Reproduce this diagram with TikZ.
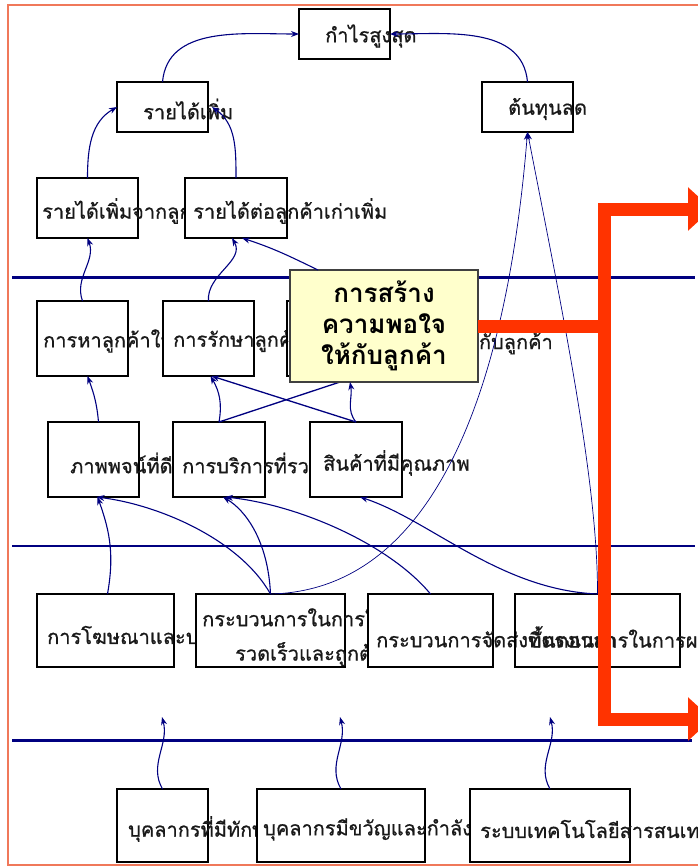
\documentclass[tikz,border=0pt]{standalone}
\usepackage{fontspec}
\newfontfamily\thai[Script=Thai, FakeBold=0.8]{Loma}
\newfontfamily\thaihead[Script=Thai]{Loma}
\usetikzlibrary{arrows.meta,calc}
\definecolor{navy}{RGB}{0,0,128}
\definecolor{redbar}{RGB}{255,51,0}
\definecolor{framecol}{RGB}{240,120,90}
\definecolor{notefill}{RGB}{255,255,204}
\begin{document}
\begin{tikzpicture}[x=1pt,y=-1pt,
  box/.style={draw=black, line width=2.5pt, fill=white, anchor=north west, inner sep=0pt, outer sep=0pt},
  openbox/.style={box, fill=none},
  lbl/.style={font=\thai\fontsize{20}{24}\selectfont, text=black!90, inner sep=0pt, anchor=west},
  conn/.style={draw=navy, line width=1.1pt, -{Stealth[length=8pt,width=6pt]}},
  thin/.style={conn, line width=0.7pt},
  plain/.style={draw=navy, line width=1.3pt},
  divider/.style={draw=navy, line width=#1},
  note/.style={draw=black!75, line width=1.2pt, fill=notefill, anchor=north west, inner sep=0pt, outer sep=0pt},
  bracket/.style={draw=redbar, line width=13pt, line join=miter},
]
\useasboundingbox (0,0) rectangle (697,868);
\draw[framecol, line width=1.5pt] (8,5) rectangle (705,865);

% dividers between the levels
\draw[divider=3pt] (12,277) -- (695,277);
\draw[divider=2pt] (12,546) -- (695,546);
\draw[divider=3pt] (12,740) -- (692,740);

% level 1: financial
\node[box, minimum width=91pt, minimum height=50pt] (profit) at (299,9) {};
\node[lbl] at (325,36) {กำไรสูงสุด};
\node[box, minimum width=91pt, minimum height=50pt] (rev) at (117,82) {};
\node[lbl] at (143,109) {รายได้เพิ่ม};
\node[box, minimum width=91pt, minimum height=50pt] (cost) at (482,82) {};
\node[lbl] at (508,109) {ต้นทุนลด};
\node[box, minimum width=101pt, minimum height=60pt] (revnew) at (37,178) {};
\node[lbl] at (42,211) {รายได้เพิ่มจากลูกค้าใหม่};
\node[box, minimum width=102pt, minimum height=60pt] (revold) at (185,178) {};
\node[lbl] at (193,211) {รายได้ต่อลูกค้าเก่าเพิ่ม};

% level 2: customer
\node[box, minimum width=91pt, minimum height=75pt] (acq) at (37,301) {};
\node[lbl] at (43,341) {การหาลูกค้าใหม่};
\node[box, minimum width=91pt, minimum height=75pt] (ret) at (163,301) {};
\node[lbl] at (173,341) {การรักษาลูกค้า};
\node[box, minimum width=91pt, minimum height=75pt] (rel) at (287,301) {};
\begin{scope}
  \clip (287,290) rectangle (697,390);
  \node[lbl, anchor=east] at (553,343) {การสร้างความสัมพันธ์กับลูกค้า};
\end{scope}
\node[box, minimum width=91pt, minimum height=75pt] (img) at (48,422) {};
\node[lbl] at (70,463) {ภาพพจน์ที่ดี};
\node[box, minimum width=92pt, minimum height=75pt] (svc) at (173,422) {};
\node[lbl] at (182,463) {การบริการที่รวดเร็ว};
\node[box, minimum width=92pt, minimum height=75pt] (qual) at (310,422) {};
\node[lbl] at (323,463) {สินค้าที่มีคุณภาพ};

% level 3: internal processes
\node[box, minimum width=137pt, minimum height=73pt] (adv) at (37,594) {};
\node[lbl] at (47,635) {การโฆษณาและประชาสัมพันธ์};
\node[box, minimum width=149pt, minimum height=73pt] (proc) at (196,594) {};
\node[lbl] at (202,616) {กระบวนการในการให้บริการที่};
\node[lbl] at (235,654) {รวดเร็วและถูกต้อง};
\node[box, minimum width=125pt, minimum height=73pt] (deliv) at (368,594) {};
\node[lbl] at (376,637) {กระบวนการจัดส่งที่ตรงเวลา};
\node[openbox, minimum width=165pt, minimum height=73pt] (prod) at (515,594) {};
\node[lbl] at (528,637) {ขั้นตอนการในการผลิต};

% level 4: learning and growth
\node[box, minimum width=91pt, minimum height=73pt] (skill) at (117,789) {};
\node[lbl] at (128,829) {บุคลากรที่มีทักษะ};
\node[box, minimum width=168pt, minimum height=73pt] (moral) at (257,789) {};
\node[lbl] at (263,829) {บุคลากรมีขวัญและกำลังใจ};
\node[box, minimum width=160pt, minimum height=73pt] (tech) at (470,789) {};
\node[lbl] at (480,829) {ระบบเทคโนโลยีสารสนเทศ};

\coordinate (up1) at (162,717);
\coordinate (up2) at (340,717);
\coordinate (up3) at (550,717);

% cause and effect links
\draw[conn] (rev.north) to[out=85,in=180] (profit.west);
\draw[conn] (cost.north) to[out=95,in=0] (profit.east);
\draw[conn] (revnew.north) to[out=90,in=210] (rev.west);
\draw[conn] (revold.north) to[out=90,in=-35] ([xshift=4pt]rev.east);
\draw[conn] (acq.north) to[out=110,in=-70] (revnew.south);
\draw[conn] (ret.north) to[out=95,in=-60] ([xshift=-4pt]revold.south);
\draw[conn] ([xshift=5pt]img.north) to[out=95,in=-70] ([xshift=5pt]acq.south);
\draw[conn] (svc.north) to[out=80,in=-60] ([xshift=2pt]ret.south);
\draw[conn, line width=1.3pt] (qual.north) -- ([xshift=3pt]ret.south);
\draw[plain] (svc.north) -- (340,382);
\draw[conn] ([xshift=2pt]adv.north) to[out=80,in=-70] ([xshift=4pt]img.south);
\draw[conn] (proc.north) .. controls (240,540) and (160,505) .. ([xshift=3pt]img.south);
\draw[conn] (proc.north) .. controls (268,540) and (245,510) .. ([xshift=4pt]svc.south);
\draw[conn] (deliv.north) .. controls (390,545) and (300,505) .. ([xshift=6pt]svc.south);
\draw[conn] (prod.north) .. controls (500,590) and (430,520) .. ([xshift=4pt]qual.south);
\draw[thin] (proc.north) .. controls (450,590) and (510,350) .. (cost.south);
\draw[thin] (prod.north) .. controls (598,480) and (560,300) .. (cost.south);
\draw[conn] (skill.north) to[out=120,in=-75] (up1);
\draw[conn] (moral.north) to[out=120,in=-75] (up2);
\draw[conn] (tech.north) to[out=120,in=-75] (up3);

% customer satisfaction callout
\node[note, minimum width=188pt, minimum height=112pt] (yel) at (290,270) {};
\node[font=\thaihead\bfseries\fontsize{26}{31}\selectfont, align=center, inner sep=0pt] at (yel.center) {การสร้าง\\ความพอใจ\\ให้กับลูกค้า};
\draw[conn] ([xshift=-66pt]yel.north) to[out=154,in=-18] ([xshift=6pt]revold.south);
\draw[conn] (qual.north) to[out=130,in=-80] ([xshift=-34pt]yel.south);

% red bracket
\coordinate (rtop) at (712,209);
\coordinate (rbot) at (712,719);
\coordinate (rmid) at (604,326);
\draw[bracket, {Triangle[length=24pt,width=42pt]}-{Triangle[length=24pt,width=42pt]}] (rtop) -- (604,209) -- (604,719) -- (rbot);
\draw[bracket] (yel.east) -- (rmid);
\end{tikzpicture}
\end{document}
